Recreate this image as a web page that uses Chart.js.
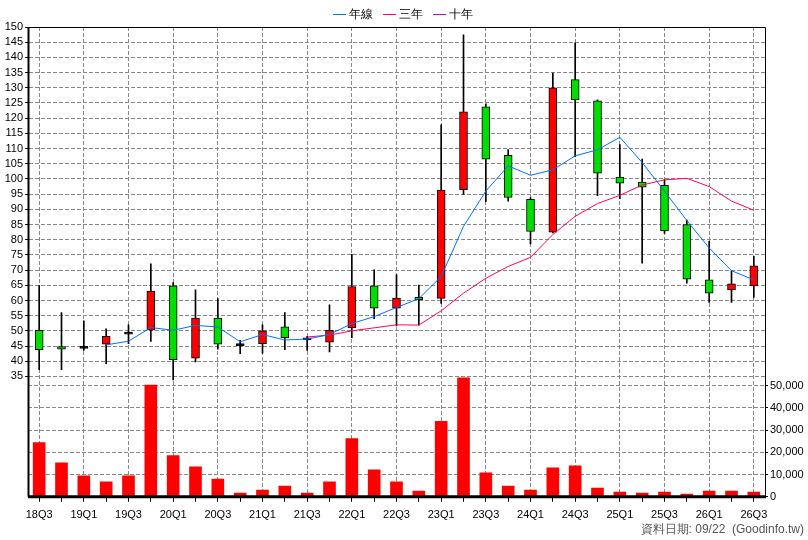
<!DOCTYPE html>
<html><head><meta charset="utf-8">
<script src="https://cdn.jsdelivr.net/npm/chart.js@4"></script>
<style>html,body{margin:0;padding:0;background:#fff}#w{width:808px;height:540px}</style>
</head><body><div id="w"><canvas id="c" width="808" height="540"></canvas></div>
<script>
const categories=['18Q3','18Q4','19Q1','19Q2','19Q3','19Q4','20Q1','20Q2','20Q3','20Q4','21Q1','21Q2','21Q3','21Q4','22Q1','22Q2','22Q3','22Q4','23Q1','23Q2','23Q3','23Q4','24Q1','24Q2','24Q3','24Q4','25Q1','25Q2','25Q3','25Q4','26Q1','26Q2','26Q3'];
const openP =[50.2,44.8,44.8,45.6,49.0,50.2,64.8,41.0,54.2,45.7,45.8,51.3,47.5,46.3,51.0,64.8,57.5,61.0,60.7,96.5,123.7,107.8,93.3,82.5,132.7,125.7,100.6,99.0,97.9,85.0,66.8,63.5,64.8];
const highP =[64.9,56.0,53.3,50.7,52.0,72.1,65.9,63.5,60.6,46.9,52.0,56.0,48.2,58.6,75.2,70.1,68.5,65.1,117.8,147.4,124.7,109.7,93.9,134.8,144.8,126.0,111.3,106.5,99.8,86.5,79.5,69.8,74.5];
const lowP  =[37.2,37.2,43.6,39.2,45.8,46.5,33.9,39.8,44.0,42.5,42.7,43.8,43.6,43.1,47.8,54.0,51.6,51.9,59.0,94.9,92.5,92.7,78.6,82.2,107.3,94.5,93.5,72.3,82.1,65.7,59.4,59.4,61.0];
const closeP=[43.8,44.0,44.3,48.2,49.5,63.1,40.5,54.2,45.6,45.2,50.0,47.8,47.3,50.2,64.6,57.5,60.8,60.3,96.3,122.1,106.5,93.9,82.7,130.0,126.0,101.9,98.6,97.3,82.9,67.0,62.4,65.5,71.4];
const maYear=[null,null,null,45.4,46.6,51.1,50.2,51.8,51.3,46.4,48.8,47.0,47.3,48.8,52.4,54.7,57.7,60.6,67.9,84.4,96.0,104.3,101.2,103.0,107.6,109.6,113.7,105.4,96.0,86.3,77.3,69.8,66.8];
const ma3Year=[null,null,null,null,null,null,null,null,null,null,null,null,48.0,48.6,50.0,51.0,52.0,51.9,56.6,62.4,67.3,71.2,74.2,81.7,87.7,91.9,94.6,98.0,99.7,100.2,97.5,92.7,89.7];
const ma10Year=categories.map(()=>null);
const volume=[24400,15300,9400,6700,9400,50300,18500,13500,8000,1700,3000,4800,1700,6700,26200,12100,6700,2600,33900,53500,10800,4800,3000,13000,13900,3900,2100,1700,2100,1200,2600,2600,2100];
const priceTicks=[150,145,140,135,130,125,120,115,110,105,100,95,90,85,80,75,70,65,60,55,50,45,40,35];
const volTicks=[0,10000,20000,30000,40000,50000];

const F='"Liberation Sans", Arial, sans-serif';
const bodies=openP.map((o,i)=>{let c=closeP[i];if(Math.abs(c-o)<0.6){const m=(c+o)/2;return [m-0.35,m+0.35];}return [o,c];});
const bodyColor=openP.map((o,i)=>Math.abs(closeP[i]-o)<0.6?'#000':(closeP[i]>o?'#ff0000':'#00dd00'));
const wicks=lowP.map((l,i)=>[l,highP[i]]);

const frame={id:'frame',afterDraw(ch){const a=ch.chartArea,x=ch.ctx;x.save();x.strokeStyle='#000';x.lineWidth=1;
 x.beginPath();x.moveTo(a.left+0.5,a.top+0.5);x.lineTo(a.right+0.5,a.top+0.5);x.lineTo(a.right+0.5,a.bottom);x.stroke();
 x.lineWidth=2;x.beginPath();x.moveTo(a.left+0.5,a.top);x.lineTo(a.left+0.5,a.bottom);x.stroke();
 x.lineWidth=3;x.beginPath();x.moveTo(a.left,a.bottom);x.lineTo(a.right+1,a.bottom);x.stroke();
 x.fillStyle='#555';x.font='12px '+F;x.textAlign='right';x.textBaseline='alphabetic';x.fillText('資料日期: 09/22  (Goodinfo.tw)',804,533);
 const items=ch.data.datasets.slice(0,3);x.font='12px '+F;x.textAlign='left';x.textBaseline='middle';
 let widths=items.map(d=>18+x.measureText(d.label).width);let total=widths.reduce((s,w)=>s+w,0)+8*2;
 let cx=(ch.width-total)/2;const cy=14;
 items.forEach((d,i)=>{x.strokeStyle=d.borderColor;x.lineWidth=1;x.beginPath();x.moveTo(cx,cy+0.5);x.lineTo(cx+13,cy+0.5);x.stroke();
  x.fillStyle='#000';x.fillText(d.label,cx+16,cy+1);cx+=widths[i]+8;});
 x.restore();}};

const gridDash={display:true,dash:[4,2],color:'rgba(0,0,0,0)'};
new Chart(document.getElementById('c'),{
 data:{labels:categories,datasets:[
  {type:'line',label:'年線',data:maYear,borderColor:'#0070ff',borderWidth:1,pointRadius:0,yAxisID:'y',order:0},
  {type:'line',label:'三年',data:ma3Year,borderColor:'#ff0066',borderWidth:1,pointRadius:0,yAxisID:'y',order:0},
  {type:'line',label:'十年',data:ma10Year,borderColor:'#cc00cc',borderWidth:1,pointRadius:0,yAxisID:'y',order:0},
  {type:'bar',label:'body',data:bodies,backgroundColor:bodyColor,borderColor:'#000',borderWidth:1,borderSkipped:false,barThickness:8,grouped:false,yAxisID:'y',order:1},
  {type:'bar',label:'wick',data:wicks,backgroundColor:'#000',barThickness:1,grouped:false,yAxisID:'y',order:2},
  {type:'bar',label:'vol',data:volume,backgroundColor:'#ff0000',barThickness:12,grouped:false,yAxisID:'v',order:3}
 ]},
 options:{responsive:false,animation:false,
  layout:{padding:{top:27,right:0,left:0,bottom:11}},
  plugins:{tooltip:{enabled:false},legend:{display:false}},
  scales:{
   x:{offset:true,grid:{offset:false,color:c=>c.index%2===0?'#888':'rgba(0,0,0,0)',tickColor:'#000',tickLength:5},
      border:gridDash,
      ticks:{autoSkip:false,maxRotation:0,padding:7,color:'#000',font:{family:F,size:11},callback:(v,i)=>i%2===0?categories[i]:''}},
   y:{position:'left',min:-4.6,max:150,afterFit(s){s.width=28;},
      afterBuildTicks(s){s.ticks=priceTicks.map(v=>({value:v}));},
      grid:{color:'#888',tickLength:3,tickColor:'#000'},border:gridDash,
      ticks:{color:'#000',font:{family:F,size:11},padding:2,autoSkip:false}},
   v:{position:'right',min:0,max:211300,afterFit(s){s.width=43;},
      afterBuildTicks(s){s.ticks=volTicks.map(v=>({value:v}));},
      grid:{color:'#888',tickLength:3,tickColor:'#000'},border:gridDash,
      ticks:{color:'#000',font:{family:F,size:11},padding:2,autoSkip:false,callback:v=>v.toLocaleString('en-US')}}
  }},
 plugins:[frame]
});
</script></body></html>
